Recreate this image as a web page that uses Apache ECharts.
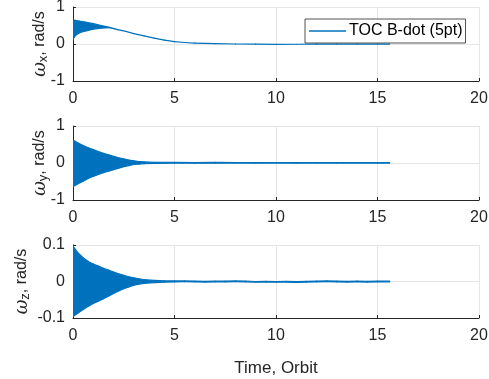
<!DOCTYPE html>
<html>
<head>
<meta charset="utf-8">
<script src="https://cdn.jsdelivr.net/npm/echarts@6/dist/echarts.min.js"></script>
<style>html,body{margin:0;padding:0;background:#fff;}#c{width:489px;height:379px;}</style>
</head>
<body>
<div id="c"></div>
<script>
// ---- data ----
const xTicks = [0, 5, 10, 15, 20];
const seriesName = 'TOC B-dot (5pt)';

// omega_x: envelope (upper / lower) of the fast oscillation, rad/s
const tX     = [0, 0.1, 0.3, 0.6, 1.0, 1.4, 1.8, 2.2, 2.6, 3.0, 3.5, 4.0, 4.5, 5.0, 5.5, 6.0, 7.0, 8.0, 9.0, 10.0, 11.0, 12.0, 13.0, 14.0, 15.0, 15.6];
const upperX = [0.65, 0.64, 0.62, 0.59, 0.55, 0.50, 0.45, 0.39, 0.34, 0.28, 0.22, 0.16, 0.105, 0.065, 0.04, 0.025, 0.01, 0.0, -0.005, -0.008, -0.007, -0.005, -0.004, -0.003, -0.002, -0.002];
const lowerX = [0.12, 0.22, 0.30, 0.35, 0.40, 0.43, 0.44, 0.39, 0.34, 0.28, 0.22, 0.16, 0.105, 0.065, 0.04, 0.025, 0.01, 0.0, -0.005, -0.008, -0.007, -0.005, -0.004, -0.003, -0.002, -0.002];

// omega_y
const tY     = [0, 0.25, 0.5, 0.75, 1.0, 1.25, 1.5, 1.75, 2.0, 2.25, 2.5, 2.75, 3.0, 3.25, 3.5, 4.0, 5.0, 6.0, 7.0, 8.0, 9.0, 10.0, 11.0, 12.0, 13.0, 14.0, 15.0, 15.6];
const upperY = [0.62, 0.54, 0.47, 0.41, 0.36, 0.31, 0.26, 0.22, 0.18, 0.14, 0.11, 0.08, 0.06, 0.04, 0.03, 0.02, 0.015, 0.012, 0.015, 0.01, 0.012, 0.01, 0.012, 0.01, 0.01, 0.01, 0.01, 0.01];
const lowerY = [-0.64, -0.56, -0.49, -0.42, -0.36, -0.31, -0.26, -0.22, -0.18, -0.14, -0.10, -0.07, -0.04, -0.03, -0.02, -0.01, -0.005, -0.004, -0.006, -0.003, -0.004, -0.003, -0.004, -0.003, -0.003, -0.003, -0.003, -0.003];

// omega_z
const tZ     = [0, 0.25, 0.5, 0.75, 1.0, 1.25, 1.5, 1.75, 2.0, 2.25, 2.5, 2.75, 3.0, 3.25, 3.5, 4.0, 4.5, 5.0, 5.5, 6.0, 6.5, 7.0, 7.5, 8.0, 8.5, 9.0, 9.5, 10.0, 10.5, 11.0, 11.5, 12.0, 12.5, 13.0, 13.5, 14.0, 14.5, 15.0, 15.6];
const upperZ = [0.097, 0.078, 0.065, 0.055, 0.048, 0.042, 0.036, 0.031, 0.026, 0.021, 0.017, 0.013, 0.010, 0.007, 0.005, 0.003, 0.002, 0.0015, 0.0015, 0.001, 0.0005, 0.001, 0.001, 0.0015, 0.001, 0.0, 0.0005, 0.0, 0.0005, -0.0005, 0.0005, 0.001, 0.0015, 0.001, 0.0005, 0.001, 0.0005, 0.001, 0.001];
const lowerZ = [-0.096, -0.086, -0.077, -0.068, -0.060, -0.054, -0.047, -0.040, -0.033, -0.026, -0.020, -0.015, -0.010, -0.007, -0.005, -0.003, -0.002, -0.001, -0.0005, -0.001, -0.0015, -0.001, -0.001, -0.0005, -0.001, -0.002, -0.0015, -0.002, -0.0015, -0.0025, -0.0015, -0.001, -0.0005, -0.001, -0.0015, -0.001, -0.0015, -0.001, -0.001];

const yTicksXY = [-1, 0, 1];
const yTicksZ = [-0.1, 0, 0.1];

// ---- chart ----
const BLUE = '#0072BD';
const TXT = '#262626';
const FONT = 'Liberation Sans, Arial, sans-serif';
const chart = echarts.init(document.getElementById('c'), null, {renderer: 'canvas'});

const grids = [
  {left: 73, top: 7, width: 406, height: 74},
  {left: 73, top: 126, width: 406, height: 74},
  {left: 73, top: 245, width: 406, height: 73}
];

function bandSeries(idx, t, up, lo, name) {
  const rows = t.map((v, i) => [v, up[i], lo[i]]);
  return {
    type: 'custom',
    name: name,
    xAxisIndex: idx,
    yAxisIndex: idx,
    clip: true,
    itemStyle: {color: BLUE},
    encode: {x: 0, y: [1, 2]},
    data: rows,
    renderItem: function (params, api) {
      const i = params.dataIndex;
      if (i >= rows.length - 1) return null;
      const a = rows[i], b = rows[i + 1];
      const p1 = api.coord([a[0], a[1]]);
      const p2 = api.coord([b[0], b[1]]);
      const p3 = api.coord([b[0], b[2]]);
      const p4 = api.coord([a[0], a[2]]);
      return {
        type: 'polygon',
        shape: {points: [p1, p2, p3, p4]},
        style: {fill: BLUE, stroke: BLUE, lineWidth: 1.2, lineJoin: 'round'}
      };
    }
  };
}

function xAxisCfg(idx, withName) {
  return {
    type: 'value', gridIndex: idx, min: xTicks[0], max: xTicks[xTicks.length - 1], interval: 5,
    axisLine: {show: true, onZero: false, lineStyle: {color: TXT, width: 1}},
    axisTick: {show: true, inside: true, length: 3, lineStyle: {color: TXT}},
    axisLabel: {color: TXT, fontSize: 16, fontFamily: FONT, margin: 10},
    splitLine: {show: true, lineStyle: {color: '#e6e6e6', width: 1}},
    name: withName ? 'Time, Orbit' : '',
    nameLocation: 'middle', nameGap: 42, nameMoveOverlap: false,
    nameTextStyle: {color: TXT, fontSize: 17, fontFamily: FONT}
  };
}

function yAxisCfg(idx, ticks, interval, sub, gap) {
  return {
    type: 'value', gridIndex: idx, min: ticks[0], max: ticks[ticks.length - 1], interval: interval,
    axisLine: {show: true, onZero: false, lineStyle: {color: TXT, width: 1}},
    axisTick: {show: true, inside: true, length: 3, lineStyle: {color: TXT}},
    axisLabel: {color: TXT, fontSize: 16, fontFamily: FONT, margin: 8},
    splitLine: {show: true, lineStyle: {color: '#e6e6e6', width: 1}},
    name: '{w|ω}{s|' + sub + '}{t|, rad/s}',
    nameLocation: 'middle', nameRotate: 90, nameGap: gap, nameMoveOverlap: false,
    nameTextStyle: {
      color: TXT, fontFamily: FONT,
      rich: {
        w: {fontSize: 18, fontFamily: 'DejaVu Serif', fontStyle: 'italic', color: TXT, lineHeight: 20, verticalAlign: 'middle'},
        s: {fontSize: 13, fontFamily: FONT, color: TXT, lineHeight: 20, verticalAlign: 'bottom', padding: [9, 0, 0, 0]},
        t: {fontSize: 16, fontFamily: FONT, color: TXT, lineHeight: 20, verticalAlign: 'middle'}
      }
    }
  };
}

chart.setOption({
  backgroundColor: '#fff',
  animation: false,
  grid: grids.map(g => Object.assign({containLabel: false, outerBoundsMode: 'none'}, g)),
  legend: {
    data: [{name: seriesName, icon: 'rect'}],
    left: 305, top: 19,
    itemWidth: 37, itemHeight: 1.5, itemGap: 4,
    padding: [4, 3, 4, 4],
    backgroundColor: '#fff',
    borderColor: '#262626', borderWidth: 0.8,
    textStyle: {color: '#000', fontSize: 16, fontFamily: FONT, padding: [0, 0, 0, -2]}
  },
  xAxis: [xAxisCfg(0, false), xAxisCfg(1, false), xAxisCfg(2, true)],
  yAxis: [
    yAxisCfg(0, yTicksXY, 1, 'x', 23),
    yAxisCfg(1, yTicksXY, 1, 'y', 23),
    yAxisCfg(2, yTicksZ, 0.1, 'z', 41)
  ],
  series: [
    bandSeries(0, tX, upperX, lowerX, seriesName),
    bandSeries(1, tY, upperY, lowerY, 'wy'),
    bandSeries(2, tZ, upperZ, lowerZ, 'wz')
  ]
});
</script>
</body>
</html>
